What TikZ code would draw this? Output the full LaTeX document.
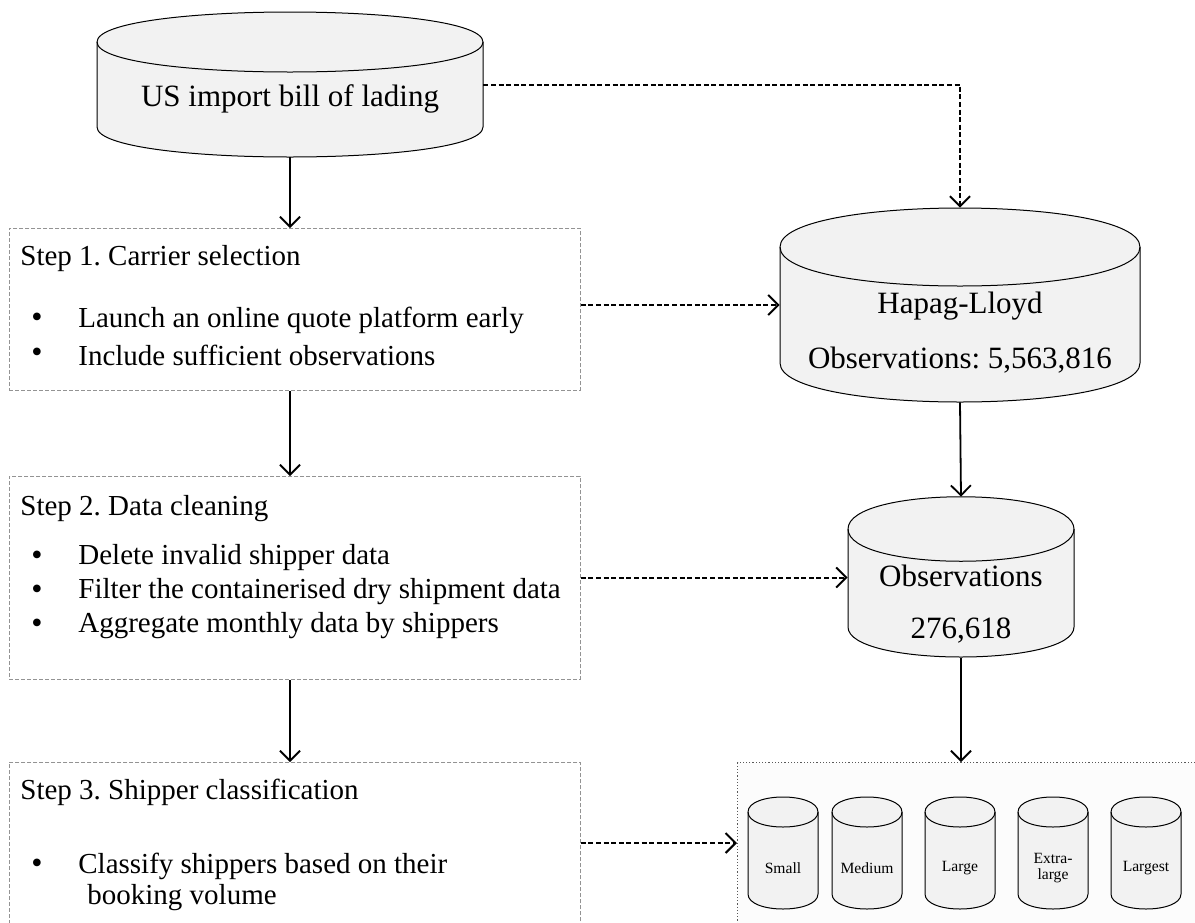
\documentclass[tikz,border=0pt]{standalone}
\usepackage{fontspec}
\setmainfont{Liberation Serif}
\usetikzlibrary{arrows.meta}
\frenchspacing

\begin{document}
\begin{tikzpicture}[x=0.5pt, y=-0.5pt,
  stepbox/.style={draw=gray!85, dash pattern=on 2pt off 1pt, line width=0.4pt,
    anchor=north west, inner sep=0pt, minimum width=285.5pt},
  dbfill/.style={fill=gray!10, draw=black, line width=0.5pt},
  dbbox/.style={inner sep=0pt},
  flow/.style={-{Straight Barb[length=5pt,width=10pt]}, line width=0.9pt},
  feed/.style={flow, line width=1pt, dash pattern=on 2.5pt off 1.3pt},
  txt/.style={font=\fontsize{14.5}{17}\selectfont, inner sep=0pt},
  dbtxt/.style={font=\fontsize{15.5}{18}\selectfont, inner sep=0pt},
  dot/.style={font=\fontsize{16}{16}\selectfont, inner sep=0pt},
  small/.style={font=\fontsize{7.8}{8.3}\selectfont, align=center, inner sep=0pt}]
\clip (0,0) rectangle (1195,922);
\fill[white] (0,0) rectangle (1195,922);
% Source database
\draw[dbfill] (97,42) -- (97,127) .. controls (97,167) and (483,167) .. (483,127)
  -- (483,42) .. controls (483,2) and (97,2) .. (97,42) -- cycle;
\draw[line width=0.5pt] (97,42) .. controls (97,82) and (483,82) .. (483,42);
\node[dbbox, minimum width=193pt, minimum height=72.5pt] (us) at (290,84.5) {};
\node[dbtxt] (us-t) at (290,99) {US import bill of lading};
% Left column: steps
\node[stepbox, minimum height=81pt] (step1) at (9,228) {};
\node[stepbox, minimum height=101.5pt] (step2) at (9,476) {};
\node[stepbox, minimum height=100pt] (step3) at (9,762) {};
\node[txt, anchor=west] (s1) at (20,259) {Step 1. Carrier selection};
\node[txt, anchor=west] (s2) at (20,509) {Step 2. Data cleaning};
\node[txt, anchor=west] (s3) at (20,792) {Step 3. Shipper classification};
\foreach \y/\t [count=\i] in
  {320/Launch an online quote platform early, 355/Include sufficient observations}
  {\node[dot] (b1-\i) at (37,\y) {\textbullet};
   \node[txt, anchor=west] (l1-\i) at (78,\y) {\t};}
\foreach \y/\t [count=\i] in
  {558/Delete invalid shipper data, 592/Filter the containerised dry shipment data,
   626/Aggregate monthly data by shippers}
  {\node[dot] (b2-\i) at (37,\y) {\textbullet};
   \node[txt, anchor=west] (l2-\i) at (78,\y) {\t};}
\node[dot] (b3-1) at (37,866) {\textbullet};
\node[txt, anchor=west] (l3-1) at (78,866) {Classify shippers based on their};
\node[txt, anchor=west] (l3-2) at (87,898) {booking volume};
% Right column: carrier data
\draw[dbfill] (780,247) -- (780,363) .. controls (780,415) and (1140,415) .. (1140,363)
  -- (1140,247) .. controls (1140,195) and (780,195) .. (780,247) -- cycle;
\draw[line width=0.5pt] (780,247) .. controls (780,299) and (1140,299) .. (1140,247);
\node[dbbox, minimum width=180pt, minimum height=97pt] (hl) at (960,305) {};
\node[dbtxt] (hl-t) at (960,306) {Hapag-Lloyd};
\node[dbtxt] (hl-n) at (960,360) {Observations: 5,563,816};
\draw[dbfill] (848,529) -- (848,627) .. controls (848,667) and (1074,667) .. (1074,627)
  -- (1074,529) .. controls (1074,486) and (848,486) .. (848,529) -- cycle;
\draw[line width=0.5pt] (848,529) .. controls (848,572) and (1074,572) .. (1074,529);
\node[dbbox, minimum width=113pt, minimum height=80.5pt] (obs) at (961,577.5) {};
\node[dbtxt] (obs-t) at (961,576) {Observations};
\node[dbtxt] (obs-n) at (961,631) {276,618};
% Shipper groups
\node[draw=gray!70!black, densely dotted, line width=0.6pt, fill=gray!2,
  anchor=north west, inner sep=0pt, minimum width=250pt, minimum height=100pt]
  (cls) at (737,762) {};
\foreach \x/\t [count=\i] in {748/Small, 832/Medium, 925/Large, 1018/Extra-\\large, 1111/Largest}
  {\draw[dbfill] (\x,812) -- (\x,894) .. controls (\x,914) and (\x+70,914) .. (\x+70,894)
     -- (\x+70,812) .. controls (\x+70,792) and (\x,792) .. (\x,812) -- cycle;
   \draw[line width=0.5pt] (\x,812) .. controls (\x,832) and (\x+70,832) .. (\x+70,812);
   \node[small] (g\i) at (\x+35,868) {\t};}
\coordinate (cls-in) at (737,843);
% Connectors
\draw[flow] (us.south) -- (us.south |- step1.north);
\draw[flow] (us.south |- step1.south) -- (us.south |- step2.north);
\draw[flow] (us.south |- step2.south) -- (us.south |- step3.north);
\draw[flow] (hl.south) -- (obs.north);
\draw[flow] (obs.south) -- (obs.south |- cls.north);
\draw[feed] (us.east) -- (us.east -| hl.north) -- (hl.north);
\draw[feed] (step1.east |- hl.west) -- (hl.west);
\draw[feed] (step2.east |- obs.west) -- (obs.west);
\draw[feed] (step3.east |- cls-in) -- (cls-in);
\end{tikzpicture}
\end{document}
